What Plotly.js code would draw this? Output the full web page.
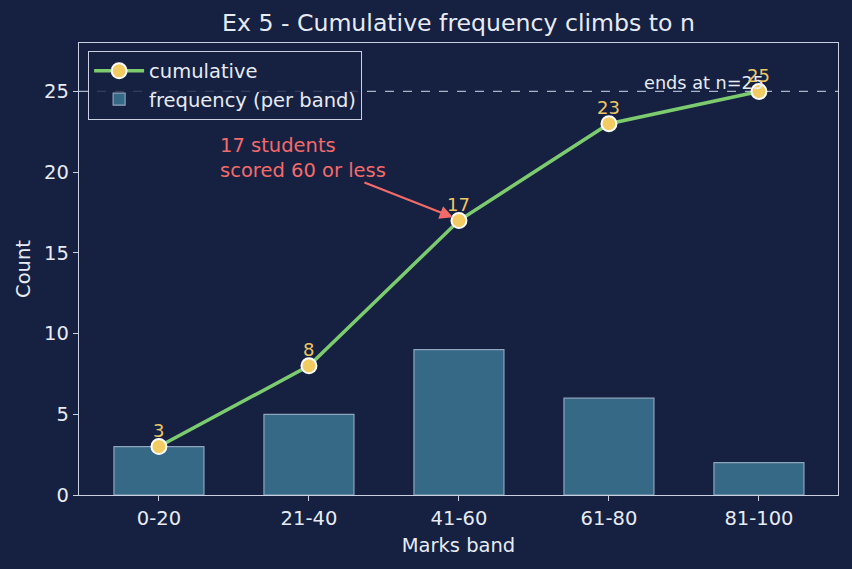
<!DOCTYPE html>
<html>
<head>
<meta charset="utf-8">
<script src="https://cdn.plot.ly/plotly-3.0.1.min.js"></script>
<style>html,body{margin:0;padding:0;background:#162040;}#chart{width:852px;height:569px;}</style>
</head>
<body>
<div id="chart"></div>
<script>
const bands = ["0-20", "21-40", "41-60", "61-80", "81-100"];
const frequency = [3, 5, 9, 6, 2];
const cumulative = [3, 8, 17, 23, 25];
const cumLabels = ["3", "8", "17", "23", "25"];
const total = 25;

const bg = "#162040";
const fg = "#e6ebf5";
const spine = "#c8d0e2";
const FS = 19.5;

const traces = [
  {
    type: "scatter",
    mode: "lines+markers",
    name: "cumulative",
    x: bands,
    y: cumulative,
    line: {color: "#7ccb6f", width: 3.5},
    marker: {color: "#f2cc63", size: 15, line: {color: "#ffffff", width: 2}},
    cliponaxis: false
  },
  {
    type: "bar",
    name: "frequency (per band)",
    x: bands,
    y: frequency,
    width: 0.6,
    marker: {color: "rgba(62,124,150,0.8)", line: {color: "#8fa4bd", width: 1.2}}
  }
];

const labelAnnotations = bands.map((b, i) => ({
  xref: "x", yref: "y", x: b, y: cumulative[i], yshift: 16, yanchor: "middle", xanchor: "center",
  text: cumLabels[i], showarrow: false, borderpad: 0, font: {size: 18, color: "#ecc765"}
}));

const layout = {
  width: 852, height: 569,
  paper_bgcolor: bg, plot_bgcolor: bg,
  margin: {l: 79, r: 14, t: 43, b: 74},
  font: {family: "DejaVu Sans", color: fg, size: FS},
  title: {text: "Ex 5 - Cumulative frequency climbs to n", font: {size: 23.6, color: fg}, x: 0.5, xanchor: "center", xref: "paper", y: 1 - 23 / 569, yref: "container", yanchor: "middle"},
  showlegend: true,
  legend: {x: 0.012, y: 0.983, xanchor: "left", yanchor: "top", bgcolor: "rgba(22,32,64,0.8)", bordercolor: spine, borderwidth: 1, font: {size: FS, color: fg}, traceorder: "normal", itemwidth: 50, tracegroupgap: 0},
  xaxis: {
    title: {text: "Marks band", font: {size: FS, color: fg}, standoff: 9},
    range: [-0.533, 4.527],
    showgrid: false, zeroline: false,
    showline: true, linecolor: spine, linewidth: 1.2, mirror: true,
    ticks: "outside", ticklen: 5, tickcolor: spine,
    tickfont: {size: FS, color: fg}
  },
  yaxis: {
    title: {text: "Count", font: {size: FS, color: fg}, standoff: 8},
    range: [0, 28],
    tickvals: [0, 5, 10, 15, 20, 25],
    showgrid: false, zeroline: false,
    showline: true, linecolor: spine, linewidth: 1.2, mirror: true,
    ticks: "outside", ticklen: 5, tickcolor: spine,
    tickfont: {size: FS, color: fg}
  },
  shapes: [
    {type: "line", xref: "paper", x0: 0, x1: 1, yref: "y", y0: total, y1: total,
     line: {color: "#a9b4c8", width: 1.3, dash: "dash"}, layer: "below"}
  ],
  annotations: [
    {xref: "x", yref: "y", x: 4.04, y: total, xanchor: "right", yanchor: "bottom", yshift: -3, borderpad: 0,
     text: "ends at n=" + total, showarrow: false, font: {size: 17.7, color: fg}},
    {xref: "x", yref: "y", x: 0.4, y: 22.4, xanchor: "left", yanchor: "top", align: "left", borderpad: 0,
     text: "17 students<br>scored 60 or less", showarrow: false, font: {size: FS, color: "#f26b6b"}},
    {xref: "x", yref: "y", axref: "x", ayref: "y", x: 1.96, y: 17.2, ax: 1.36, ay: 19.4,
     text: "", showarrow: true, arrowhead: 2, arrowsize: 1.2, arrowwidth: 2.2, arrowcolor: "#f26b6b"}
  ].concat(labelAnnotations)
};

Plotly.newPlot("chart", traces, layout, {displayModeBar: false, staticPlot: true});
</script>
</body>
</html>
